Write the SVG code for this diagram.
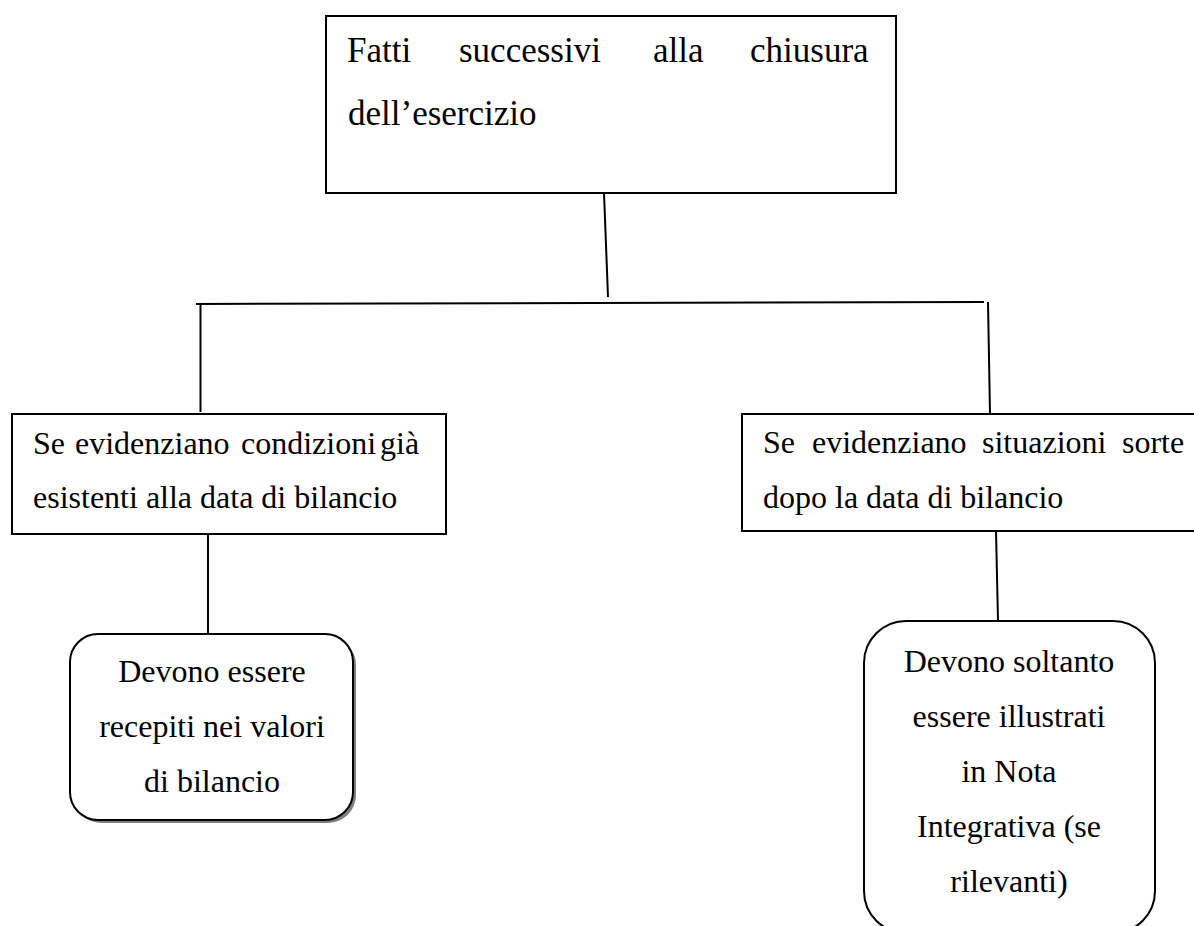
<svg xmlns="http://www.w3.org/2000/svg" width="1194" height="926" viewBox="0 0 1194 926">
<style>
.box{fill:#fff;stroke:#000;stroke-width:2}
.shadow{fill:#7f7f7f;stroke:none}
.t{font-family:"Liberation Serif","Times New Roman",serif;font-size:32px;fill:#000}
.tt{font-family:"Liberation Serif","Times New Roman",serif;font-size:35px;fill:#000}
.c{text-anchor:middle}
.conn line{stroke:#000;stroke-width:2;fill:none}
</style>
<rect width="1194" height="926" fill="#fff"/>
<g id="connectors" class="conn">
<line x1="604" y1="193" x2="608" y2="297"/>
<line x1="196" y1="304" x2="984" y2="302"/>
<line x1="200.5" y1="304" x2="200.5" y2="412"/>
<line x1="988" y1="302" x2="990" y2="414"/>
<line x1="208" y1="535" x2="208" y2="634"/>
<line x1="996" y1="531" x2="998" y2="621"/>
</g>
<g id="node-top">
<rect class="box" x="326" y="16" width="570" height="177"/>
<text class="tt" y="62"><tspan x="347">Fatti</tspan><tspan x="459">successivi</tspan><tspan x="653">alla</tspan><tspan x="750">chiusura</tspan></text>
<text class="tt" x="348" y="125">dell’esercizio</text>
</g>
<g id="node-left">
<rect class="box" x="12" y="414" width="434" height="120"/>
<text class="t" y="454"><tspan x="33">Se</tspan><tspan x="75">evidenziano</tspan><tspan x="241">condizioni</tspan><tspan x="380">già</tspan></text>
<text class="t" x="33" y="508">esistenti alla data di bilancio</text>
</g>
<g id="node-right">
<rect class="box" x="742" y="414" width="460" height="117"/>
<text class="t" y="453"><tspan x="763">Se</tspan><tspan x="812">evidenziano</tspan><tspan x="982">situazioni</tspan><tspan x="1122">sorte</tspan></text>
<text class="t" x="763" y="508">dopo la data di bilancio</text>
</g>
<g id="node-left-result">
<rect class="shadow" x="73" y="637" width="283" height="186" rx="28"/>
<rect class="box" x="70" y="634" width="283" height="186" rx="28"/>
<text class="t c" x="212" y="682">Devono essere</text>
<text class="t c" x="212" y="737">recepiti nei valori</text>
<text class="t c" x="212" y="792">di bilancio</text>
</g>
<g id="node-right-result">
<rect class="box" x="864" y="621" width="291" height="312" rx="42"/>
<text class="t c" x="1009" y="672">Devono soltanto</text>
<text class="t c" x="1009" y="727">essere illustrati</text>
<text class="t c" x="1009" y="782">in Nota</text>
<text class="t c" x="1009" y="837">Integrativa (se</text>
<text class="t c" x="1009" y="892">rilevanti)</text>
</g>
</svg>
